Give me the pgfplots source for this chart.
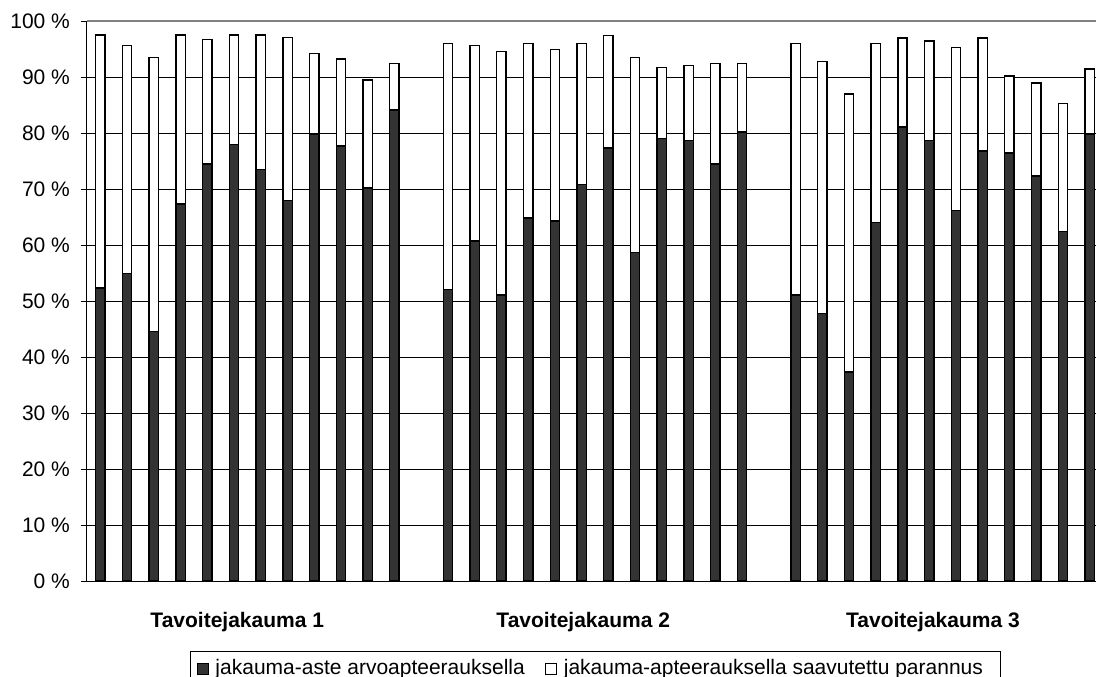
\documentclass[border=0pt]{standalone}
\usepackage{fontspec}
\setmainfont{Liberation Sans}
\usepackage{pgfplots}
\usepackage{pgfplotstable}
\pgfplotsset{compat=1.18}
\definecolor{darkbar}{HTML}{333333}
\definecolor{topline}{HTML}{808080}

\pgfplotstableread{
x a b
0 52.3 45.2
1 54.9 40.7
2 44.6 48.9
3 67.3 30.2
4 74.5 22.2
5 78.0 19.5
6 73.5 24.0
7 68.0 29.1
8 79.8 14.4
9 77.7 15.5
10 70.2 19.3
11 84.1 8.3
13 52.1 43.9
14 60.7 34.9
15 51.1 43.5
16 64.8 31.2
17 64.3 30.6
18 70.8 25.2
19 77.3 20.1
20 58.7 34.8
21 79.0 12.7
22 78.7 13.4
23 74.5 17.9
24 80.2 12.2
26 51.1 44.9
27 47.8 45.0
28 37.3 49.7
29 64.0 32.0
30 81.1 15.9
31 78.7 17.7
32 66.2 29.1
33 76.8 20.2
34 76.4 13.8
35 72.3 16.6
36 62.4 22.9
37 79.8 11.6
}\data

\begin{document}
\begin{tikzpicture}
\begin{axis}[
  scale only axis, width=508pt, height=280pt,
  xmin=-0.5, xmax=37.5, ymin=0, ymax=100,
  ybar stacked, bar width=0.35,
  axis x line*=bottom, axis y line*=left,
  axis line style={black, line width=0.5pt},
  font=\fontsize{10.5}{12}\selectfont,
  /pgf/number format/assume math mode=true,
  ytick={0,10,...,90},
  yticklabel={\pgfmathprintnumber{\tick}~\%},
  yticklabel style={font=\fontsize{10.5}{12}\selectfont, xshift=-2pt},
  extra y ticks={100},
  extra y tick labels={100~\%},
  extra y tick style={grid style={topline, line width=1pt}},
  ymajorgrids,
  grid style={black, line width=0.5pt},
  tick align=outside,
  major tick length=3pt,
  ytick style={black, line width=0.5pt},
  xtick={5.12,18.06,31.14},
  xticklabels={Tavoitejakauma 1, Tavoitejakauma 2, Tavoitejakauma 3},
  xtick style={draw=none},
  xticklabel style={font=\fontsize{10.5}{12}\selectfont\bfseries, yshift=-9pt},
  legend style={at={(axis description cs:0,0)}, anchor=north west,
    xshift=51.5pt, yshift=-35pt, draw=black, line width=0.5pt,
    font=\fontsize{10.5}{12}\selectfont, inner xsep=3pt, inner ysep=2pt,
    /tikz/every even column/.append style={column sep=8pt}},
  legend columns=2,
  legend image code/.code={\draw[#1, draw=black, line width=0.5pt] (0pt,-2.75pt) rectangle (5.5pt,2.75pt);},
]
\addplot[fill=darkbar, draw=black, line width=0.7pt] table[x=x, y=a]{\data};
\addplot[fill=white, draw=black, line width=0.7pt] table[x=x, y=b]{\data};
\legend{\hspace*{1.5pt}jakauma-aste arvoapteerauksella, \hspace*{1.5pt}jakauma-apteerauksella saavutettu parannus\hspace*{4pt}}
\coordinate (O) at (rel axis cs:0,0);
\end{axis}
\pgfresetboundingbox
\path[use as bounding box] (O) ++(-43.5pt,-47.5pt) rectangle ++(548pt,338pt);
\end{tikzpicture}
\end{document}
